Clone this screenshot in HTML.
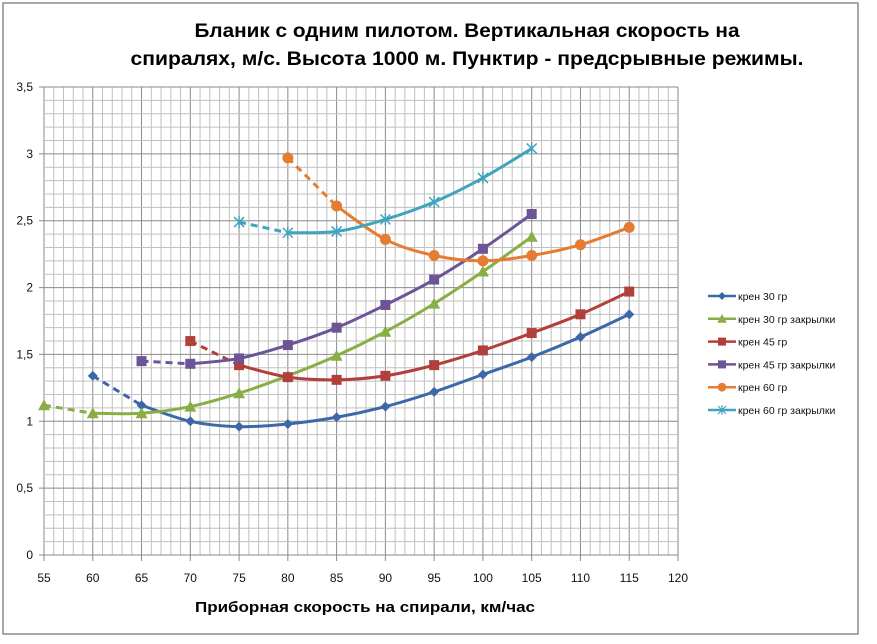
<!DOCTYPE html>
<html><head><meta charset="utf-8"><style>
body{margin:0;background:#fff;}
svg{display:block;font-family:"Liberation Sans",sans-serif;}
</style></head><body>
<svg id="chart" width="877" height="644" viewBox="0 0 877 644" xmlns="http://www.w3.org/2000/svg">
<rect x="3" y="3" width="855" height="631" fill="#fff" stroke="#8c8c8c" stroke-width="1.5"/>
<text x="467" y="37" text-anchor="middle" font-size="19" font-weight="bold" textLength="545" lengthAdjust="spacingAndGlyphs">Бланик с одним пилотом. Вертикальная скорость на</text>
<text x="467" y="65" text-anchor="middle" font-size="19" font-weight="bold" textLength="673" lengthAdjust="spacingAndGlyphs">спиралях, м/с. Высота 1000 м. Пунктир - предсрывные режимы.</text>
<g id="grid"></g>
<g id="axes"></g>
<g id="series"></g>
<g id="legend"></g>
<text x="365" y="612" text-anchor="middle" font-size="15" font-weight="bold" textLength="340" lengthAdjust="spacingAndGlyphs">Приборная скорость  на спирали, км/час</text>
</svg>
<script>
const xTicks=[55,60,65,70,75,80,85,90,95,100,105,110,115,120];
const yTicks=[0,0.5,1,1.5,2,2.5,3,3.5];
const yTickLabels=["0","0,5","1","1,5","2","2,5","3","3,5"];
const seriesNames=["крен 30 гр","крен 30 гр закрылки","крен 45 гр","крен 45 гр закрылки","крен 60 гр","крен 60 гр закрылки"];
const s1x=[60,65,70,75,80,85,90,95,100,105,110,115];
const s1y=[1.34,1.12,1.00,0.96,0.98,1.03,1.11,1.22,1.35,1.48,1.63,1.80];
const s2x=[55,60,65,70,75,80,85,90,95,100,105];
const s2y=[1.12,1.06,1.06,1.11,1.21,1.34,1.49,1.67,1.88,2.12,2.38];
const s3x=[70,75,80,85,90,95,100,105,110,115];
const s3y=[1.60,1.42,1.33,1.31,1.34,1.42,1.53,1.66,1.80,1.97];
const s4x=[65,70,75,80,85,90,95,100,105];
const s4y=[1.45,1.43,1.47,1.57,1.70,1.87,2.06,2.29,2.55];
const s5x=[80,85,90,95,100,105,110,115];
const s5y=[2.97,2.61,2.36,2.24,2.20,2.24,2.32,2.45];
const s6x=[75,80,85,90,95,100,105];
const s6y=[2.49,2.41,2.42,2.51,2.64,2.82,3.04];
const dashCount=[1,1,1,1,1,1];
const colors=["#3d68a8","#8aae46","#b1403c","#6c5496","#e47d32","#3fa4bc"];
const markers=["diamond","triangle","square","square","circle","star"];

const X0=55,X1=120,PX0=44,PX1=678,Y0=0,Y1=3.5,PY0=555,PY1=87;
const sx=v=>PX0+(v-X0)*(PX1-PX0)/(X1-X0);
const sy=v=>PY0-(v-Y0)*(PY0-PY1)/(Y1-Y0);
const NS="http://www.w3.org/2000/svg";
function mk(tag,attrs,parent){const e=document.createElementNS(NS,tag);for(const k in attrs)e.setAttribute(k,attrs[k]);parent.appendChild(e);return e;}
const grid=document.getElementById('grid'),axes=document.getElementById('axes'),ser=document.getElementById('series'),leg=document.getElementById('legend');
for(let v=X0;v<=X1;v+=1){const major=(v-X0)%5===0;
 const l=mk('line',{x1:sx(v),x2:sx(v),y1:PY1,y2:PY0+(major?6:0),stroke:major?'#8a8a8a':'#c0c0c0','stroke-width':1},grid);
 
 }
for(let i=0;i<=35;i++){const v=i/10;const major=i%5===0;
 const l=mk('line',{x1:PX0-(major?5:0),x2:PX1,y1:sy(v),y2:sy(v),stroke:major?'#8a8a8a':'#c0c0c0','stroke-width':1},grid);
 
 }
xTicks.forEach(v=>{const t=mk('text',{x:sx(v),y:582,'text-anchor':'middle','font-size':12,fill:'#111'},axes);t.textContent=v;
 
 });
yTicks.forEach((v,i)=>{const t=mk('text',{x:33,y:sy(v)+4,'text-anchor':'end','font-size':12,fill:'#111'},axes);t.textContent=yTickLabels[i];
 
 });

function smooth(pts){if(pts.length<2)return '';let d=`M${pts[0][0]},${pts[0][1]}`;
 for(let i=0;i<pts.length-1;i++){const p0=pts[i-1]||pts[i],p1=pts[i],p2=pts[i+1],p3=pts[i+2]||p2;
  const c1=[p1[0]+(p2[0]-p0[0])/6,p1[1]+(p2[1]-p0[1])/6],c2=[p2[0]-(p3[0]-p1[0])/6,p2[1]-(p3[1]-p1[1])/6];
  d+=` C${c1[0]},${c1[1]} ${c2[0]},${c2[1]} ${p2[0]},${p2[1]}`;}return d;}
function marker(type,x,y,c,g){let e;
 if(type==='diamond')e=mk('polygon',{points:`${x},${y-5} ${x+5},${y} ${x},${y+5} ${x-5},${y}`,fill:c},g);
 else if(type==='triangle')e=mk('polygon',{points:`${x},${y-6} ${x+6},${y+5} ${x-6},${y+5}`,fill:c},g);
 else if(type==='square')e=mk('rect',{x:x-5,y:y-5,width:10,height:10,fill:c},g);
 else if(type==='circle')e=mk('circle',{cx:x,cy:y,r:5.5,fill:c},g);
 else {e=mk('path',{d:`M${x-5},${y-5}L${x+5},${y+5}M${x-5},${y+5}L${x+5},${y-5}M${x},${y-6}L${x},${y+6}`,stroke:c,'stroke-width':1.5,fill:'none'},g);}
 return e;}
const XS=[s1x,s2x,s3x,s4x,s5x,s6x],YS=[s1y,s2y,s3y,s4y,s5y,s6y];
XS.forEach((xs,k)=>{const g=mk('g',{},ser);
 
 
 const pts=xs.map((v,i)=>[sx(v),sy(YS[k][i])]);const n=dashCount[k];
 const dp=mk('path',{d:smooth(pts.slice(0,n+1)),fill:'none',stroke:colors[k],'stroke-width':3,'stroke-dasharray':'7,5'},g);
 
 
 const sp=mk('path',{d:smooth(pts.slice(n)),fill:'none',stroke:colors[k],'stroke-width':3},g);
 
 
 pts.forEach(p=>{const m=marker(markers[k],p[0],p[1],colors[k],g);
  
  });
});
seriesNames.forEach((nm,k)=>{const y=296+k*22.8;const g=mk('g',{},leg);
 
 
 mk('line',{x1:708,x2:736,y1:y,y2:y,stroke:colors[k],'stroke-width':2.5},g);
 marker(markers[k],722,y,colors[k],g).setAttribute('transform',`translate(722 ${y}) scale(0.8) translate(-722 ${-y})`);
 const t=mk('text',{x:738,y:y+4,'font-size':10.5,fill:'#111'},g);t.textContent=nm;});
</script>
</body></html>
